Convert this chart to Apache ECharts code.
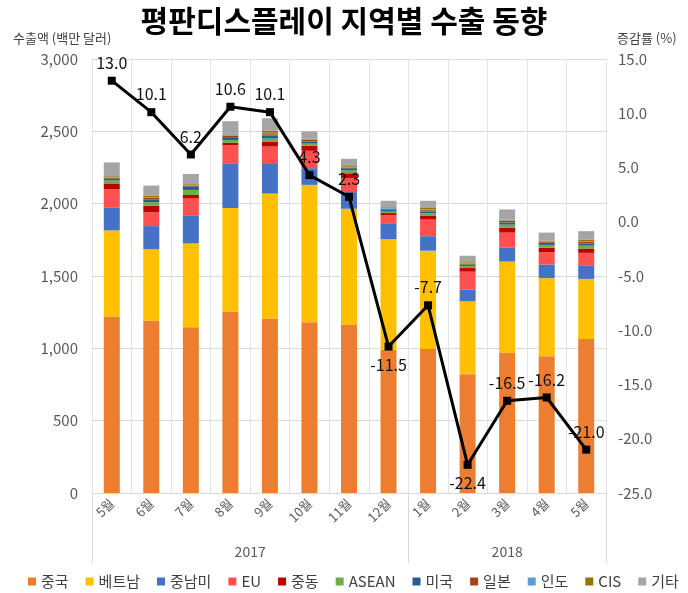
<!DOCTYPE html>
<html><head><meta charset="utf-8">
<script src="https://cdn.jsdelivr.net/npm/echarts@6/dist/echarts.min.js"></script>
<style>html,body{margin:0;padding:0;background:#fff}#c{width:688px;height:593px}</style>
</head><body><div id="c"></div>
<script>
const months = ['5월','6월','7월','8월','9월','10월','11월','12월','1월','2월','3월','4월','5월'];
const yearLabels = ['2017','2018'];
const yearSpans = [8,5];
const china   = [1220,1190,1145,1255,1205,1180,1165,990,995,820,970,945,1065];
const vietnam = [595,495,580,715,865,950,800,765,680,505,630,540,415];
const latam   = [160,160,195,305,210,115,115,105,100,80,95,95,90];
const eu      = [125,95,115,130,115,120,95,60,115,125,105,85,90];
const mideast = [40,45,25,15,35,35,35,15,25,25,35,30,30];
const asean   = [20,25,35,20,20,15,20,10,20,15,20,20,20];
const usa     = [15,20,25,20,20,15,15,15,10,10,15,15,15];
const japan   = [5,10,5,10,10,10,5,5,10,5,10,5,10];
const india   = [5,5,5,10,10,5,5,5,5,5,5,5,5];
const cis     = [5,10,5,5,15,5,10,5,10,5,5,5,10];
const others  = [95,70,70,85,85,50,45,45,50,45,70,55,60];
const growth  = [13.0,10.1,6.2,10.6,10.1,4.3,2.3,-11.5,-7.7,-22.4,-16.5,-16.2,-21.0];
const leftTicks = {min:0,max:3000,interval:500};
const rightTicks = {min:-25,max:15,interval:5};

const seriesDefs = [
  ['중국',china,'#ED7D31'],['베트남',vietnam,'#FFC000'],['중남미',latam,'#4472C4'],
  ['EU',eu,'#FF5050'],['중동',mideast,'#C00000'],['ASEAN',asean,'#70AD47'],
  ['미국',usa,'#255E91'],['일본',japan,'#9E480E'],['인도',india,'#5B9BD5'],
  ['CIS',cis,'#997300'],['기타',others,'#A5A5A5']
];
const FONT = '"Noto Sans CJK KR", "Noto Sans", sans-serif';
const below = new Set([7,9]);

let acc = 0; const yearCenters = [], yearBounds = [0];
yearSpans.forEach(s=>{ yearCenters.push(acc + s/2); acc += s; yearBounds.push(acc); });

const series = seriesDefs.map(([name,data,color])=>({
  name, type:'bar', stack:'total', data, barWidth:16, itemStyle:{color},
  xAxisIndex:0, yAxisIndex:0
}));
series.push({
  name:'증감률', type:'line', yAxisIndex:1, xAxisIndex:0,
  data: growth.map((v,i)=>({value:v, label:{position: below.has(i)?'bottom':'top'}})),
  lineStyle:{color:'#000',width:3}, itemStyle:{color:'#000'},
  symbol:'rect', symbolSize:8, z:10,
  label:{show:true, formatter:p=>p.value.toFixed(1), fontSize:16, color:'#111', fontFamily:FONT, distance:6}
});

const chart = echarts.init(document.getElementById('c'));
chart.setOption({
  animation:false,
  textStyle:{fontFamily:FONT},
  title:[
    {text:'평판디스플레이 지역별 수출 동향', left:'center', top:1,
     textStyle:{fontSize:30, fontWeight:'bold', color:'#000', fontFamily:FONT}},
    {text:'수출액 (백만 달러)', left:8, top:27, textStyle:{fontSize:13, fontWeight:'normal', color:'#404040', fontFamily:FONT}},
    {text:'증감률 (%)', left:612, top:27, textStyle:{fontSize:13, fontWeight:'normal', color:'#404040', fontFamily:FONT}}
  ],
  legend:{
    bottom:4, left:28, width:660, padding:0, itemWidth:8, itemHeight:8, itemGap:17, icon:'rect',
    data: seriesDefs.map(d=>d[0]),
    textStyle:{fontSize:15, color:'#404040', fontFamily:FONT}
  },
  grid:{left:92, right:82, top:59, bottom:100, containLabel:false},
  xAxis:[
    {type:'category', data:months, boundaryGap:true,
     axisLine:{lineStyle:{color:'#d9d9d9'}}, axisTick:{show:false},
     splitLine:{show:true, lineStyle:{color:'#e3e3e3'}},
     axisLabel:{rotate:45, fontSize:13, color:'#595959', margin:8, interval:0}},
    {type:'value', min:0, max:acc, position:'bottom', show:true,
     axisLine:{show:false}, splitLine:{show:false}, axisTick:{show:false},
     axisLabel:{show:true, customValues:yearCenters, margin:52, fontSize:14, color:'#595959',
       formatter:v=>{const i=yearCenters.indexOf(v); return i>=0?yearLabels[i]:'';}}},
    {type:'category', data:months, boundaryGap:true, position:'bottom', show:true,
     axisLine:{show:false}, splitLine:{show:false}, axisLabel:{show:false},
     axisTick:{show:true, alignWithLabel:false, length:70, lineStyle:{color:'#d9d9d9'},
       interval:(i)=>yearBounds.includes(i)}}
  ],
  yAxis:[
    {type:'value', min:leftTicks.min, max:leftTicks.max, interval:leftTicks.interval,
     axisLine:{show:false}, axisTick:{show:false},
     splitLine:{lineStyle:{color:'#d9d9d9'}},
     axisLabel:{fontSize:15, color:'#595959', margin:14, formatter:v=>v.toLocaleString('en-US')}},
    {type:'value', min:rightTicks.min, max:rightTicks.max, interval:rightTicks.interval,
     axisLine:{show:false}, axisTick:{show:false}, splitLine:{show:false},
     axisLabel:{fontSize:15, color:'#595959', margin:12, formatter:v=>v.toFixed(1)}}
  ],
  series
});
</script></body></html>
